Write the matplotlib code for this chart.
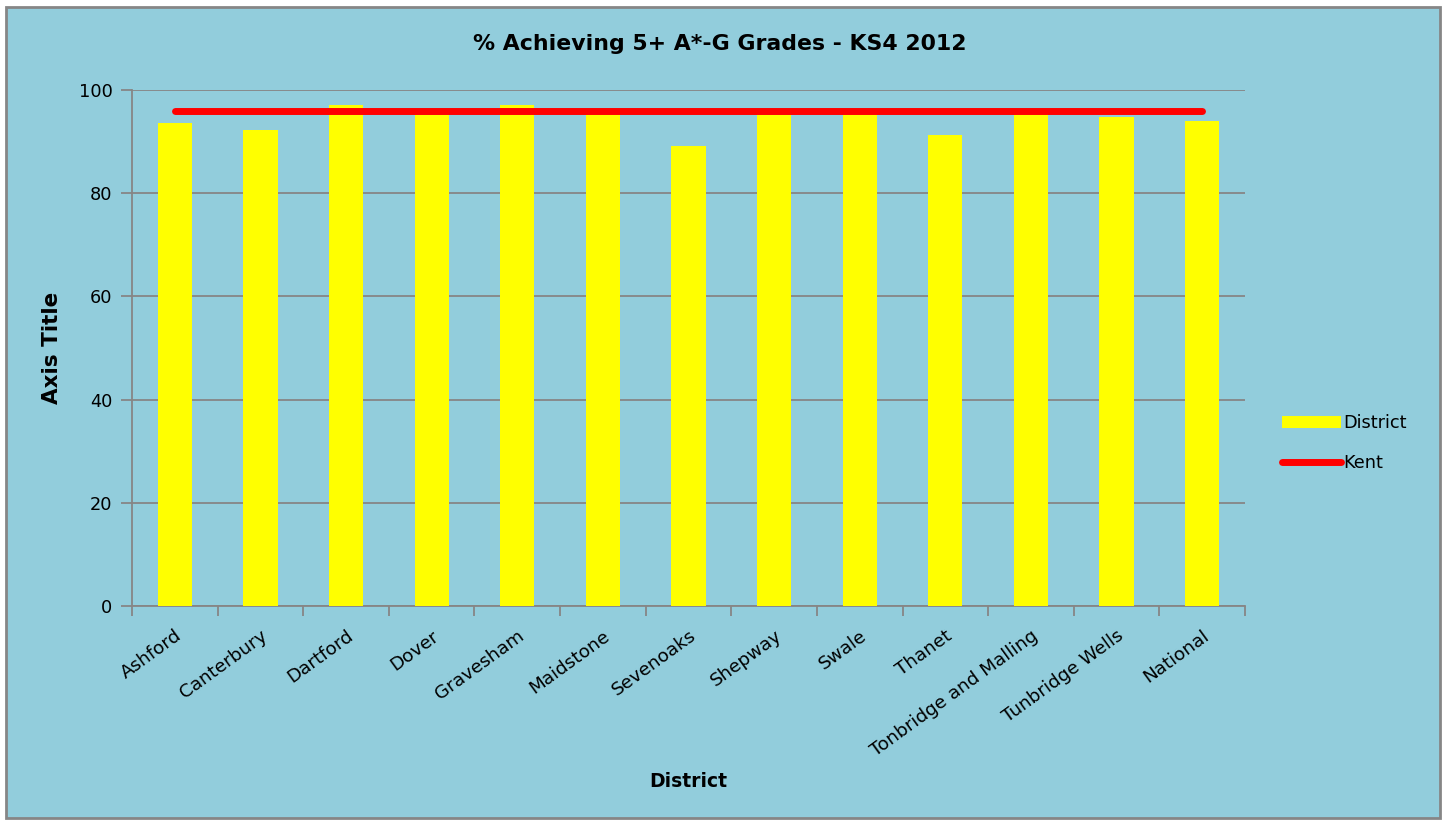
import matplotlib
matplotlib.use("Agg")
import matplotlib.pyplot as plt
from matplotlib.patches import Rectangle, Patch
from matplotlib.lines import Line2D
import numpy as np

districts = ["Ashford", "Canterbury", "Dartford", "Dover", "Gravesham", "Maidstone",
             "Sevenoaks", "Shepway", "Swale", "Thanet", "Tonbridge and Malling",
             "Tunbridge Wells", "National"]
district_values = [93.6, 92.3, 97.0, 95.2, 97.0, 96.0, 89.2, 95.2, 95.9, 91.3, 96.2, 94.8, 94.0]
kent_value = 96.0
y_ticks = [0, 20, 40, 60, 80, 100]

bg = "#92CDDC"
grid_c = "#868686"
font = "DejaVu Sans"

fig = plt.figure(figsize=(14.42, 8.21), dpi=100)
fig.patch.set_facecolor("white")
fig.add_artist(Rectangle((6/1442, 1 - 818/821), (1440-6)/1442, (818-7)/821,
                         transform=fig.transFigure, facecolor=bg, edgecolor=grid_c,
                         linewidth=2, zorder=-10))

ax = fig.add_axes([132/1442, 1 - 606/821, (1245-132)/1442, (606-90)/821])
ax.set_facecolor(bg)
ax.patch.set_alpha(0)

x = np.arange(len(districts))
ax.bar(x, district_values, width=0.4, color="#FFFF00", zorder=3)
ax.plot([x[0], x[-1]], [kent_value, kent_value], color="#FF0000", linewidth=5,
        solid_capstyle="round", zorder=4)

ax.set_xlim(-0.5, len(districts) - 0.5)
ax.set_ylim(0, 100)
ax.set_yticks(y_ticks)
ax.set_yticklabels([str(v) for v in y_ticks], fontsize=12.8, family=font)
ax.yaxis.grid(True, color=grid_c, linewidth=1.3, zorder=0)
ax.set_axisbelow(True)

ax.set_xticks(np.arange(len(districts) + 1) - 0.5)
ax.set_xticklabels([])
ax.set_xticks(x, minor=True)
ax.set_xticklabels(districts, minor=True, rotation=36, ha="right", va="top",
                   rotation_mode="anchor", fontsize=13.2, family=font)
ax.tick_params(axis="x", which="minor", length=0, pad=15)
ax.tick_params(axis="x", which="major", length=7, width=1.3, color=grid_c)
ax.tick_params(axis="y", length=8, width=1.3, color=grid_c, pad=6)

for s in ["top", "right"]:
    ax.spines[s].set_visible(False)
for s in ["left", "bottom"]:
    ax.spines[s].set_color(grid_c)
    ax.spines[s].set_linewidth(1.3)

ax.set_ylabel("Axis Title", fontsize=15.5, fontweight="bold", family=font, labelpad=12)
fig.text(688/1442, 1 - 781/821, "District", ha="center", va="center",
         fontsize=13.5, fontweight="bold", family=font)
fig.text(720/1442, 1 - 44/821, "% Achieving 5+ A*-G Grades - KS4 2012", ha="center",
         va="center", fontsize=15.8, fontweight="bold", family=font)

handles = [Patch(facecolor="#FFFF00", edgecolor="none"),
           Line2D([0], [0], color="#FF0000", linewidth=5, solid_capstyle="round")]
leg = fig.legend(handles, ["District", "Kent"], loc="center left",
                 bbox_to_anchor=(1266/1442, 1 - 443/821), frameon=False,
                 prop={"family": font, "size": 12.8}, handlelength=3.3,
                 handletextpad=0.15, labelspacing=1.2, handleheight=0.6)

fig.savefig("out.png", dpi=100, facecolor=fig.get_facecolor())
